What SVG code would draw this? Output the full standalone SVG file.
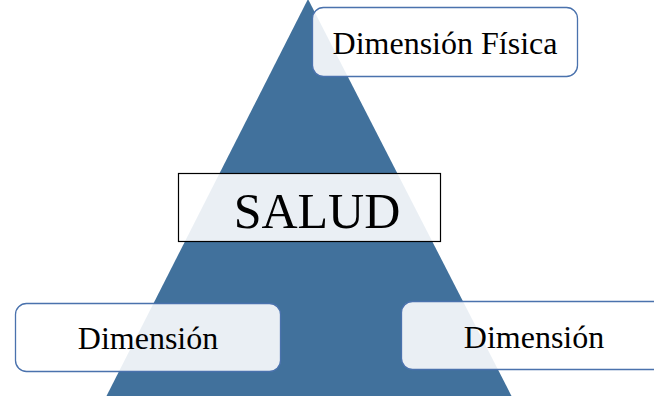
<svg xmlns="http://www.w3.org/2000/svg" width="654" height="396" viewBox="0 0 654 396">
<style>
.box{fill:#ffffff;fill-opacity:0.89;stroke:#4a72ad;stroke-width:1.3}
.sal{fill:#ffffff;fill-opacity:0.89;stroke:#000000;stroke-width:1.2}
.t{font-family:"Liberation Serif","Times New Roman",serif;fill:#000000;text-anchor:middle}
</style>
<rect width="654" height="396" fill="#ffffff"/>
<g id="piramide">
<polygon points="308,-1 106,397 512,397" fill="#41719c"/>
</g>
<g id="connectors"></g>
<g id="fisica">
<rect class="box" x="312.5" y="7.5" width="265" height="69" rx="11"/>
<text class="t" x="445" y="54" font-size="32">Dimensión Física</text>
</g>
<g id="salud">
<rect class="sal" x="178.5" y="173.5" width="262" height="68"/>
<text class="t" x="317" y="228" font-size="50">SALUD</text>
</g>
<g id="dim-izq">
<rect class="box" x="15.5" y="303.5" width="265" height="68" rx="11"/>
<text class="t" x="148" y="349" font-size="32">Dimensión</text>
</g>
<g id="dim-der">
<rect class="box" x="401.5" y="301.5" width="265" height="68" rx="11"/>
<text class="t" x="534" y="348" font-size="32">Dimensión</text>
</g>
</svg>
